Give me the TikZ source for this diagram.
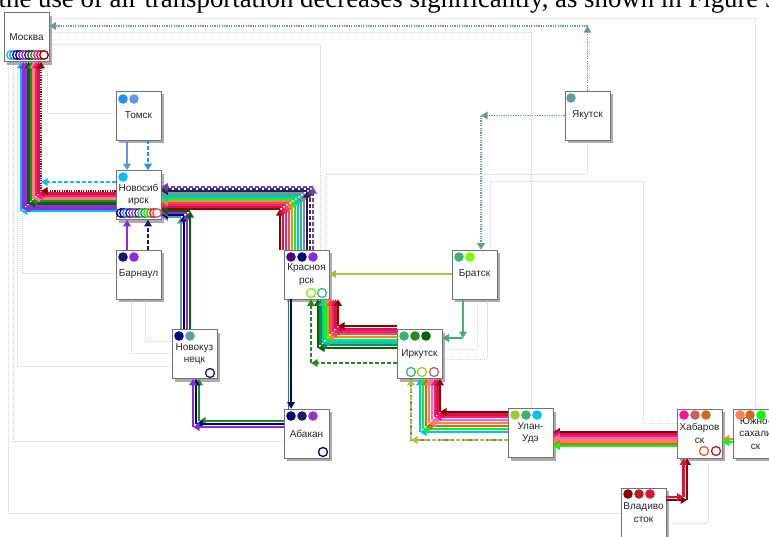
\documentclass[tikz,border=0pt]{standalone}
\usepackage{fontspec}
\setmainfont{Liberation Serif}
\newfontfamily\lab{Liberation Sans}
\usetikzlibrary{arrows.meta,shadows,calc,backgrounds}
\definecolor{darkred}{RGB}{139,0,0}
\definecolor{firebrick}{RGB}{178,34,34}
\definecolor{crimson}{RGB}{220,20,60}
\definecolor{deeppink}{RGB}{255,20,147}
\definecolor{hotpink}{RGB}{255,105,180}
\definecolor{salmon}{RGB}{250,128,114}
\definecolor{coral}{RGB}{255,127,80}
\definecolor{chocolate}{RGB}{210,105,30}
\definecolor{indianred}{RGB}{205,92,92}
\definecolor{lime}{RGB}{0,255,0}
\definecolor{lawngreen}{RGB}{124,252,0}
\definecolor{yellowgreen}{RGB}{154,205,50}
\definecolor{forestgreen}{RGB}{34,139,34}
\definecolor{darkgreen}{RGB}{0,100,0}
\definecolor{mediumseagreen}{RGB}{60,179,113}
\definecolor{cadetblue}{RGB}{95,158,160}
\definecolor{deepskyblue}{RGB}{0,191,255}
\definecolor{dodgerblue}{RGB}{30,144,255}
\definecolor{cornflowerblue}{RGB}{100,149,237}
\definecolor{navyb}{RGB}{0,0,128}
\definecolor{midnightblue}{RGB}{25,25,112}
\definecolor{indigo}{RGB}{75,0,130}
\definecolor{blueviolet}{RGB}{138,43,226}
\definecolor{darkorchid}{RGB}{153,50,204}
\definecolor{bluec}{RGB}{0,0,220}
\begin{document}
\begin{tikzpicture}[x=1pt,y=-1pt,
  box/.style={draw=gray!90!black, line width=0.7pt, fill=white, minimum width=45pt, minimum height=49pt, inner sep=0pt, align=center, font=\lab\fontsize{10}{12.5}\selectfont, text=black!85, drop shadow={shadow xshift=3pt, shadow yshift=-3pt, fill=gray!65, opacity=1}},
  arr/.style={-{Triangle[length=6.5pt,width=7.5pt]}},
  bl/.style={line width=2.2pt},
  thn/.style={line width=1.6pt},
  dsh/.style={dash pattern=on 4pt off 2pt},
  dotl/.style={dash pattern=on 1.2pt off 1.2pt},
  bg/.style={gray!35, line width=0.6pt, dash pattern=on 1pt off 1pt},
  ]
\useasboundingbox (0,0) rectangle (769,536);
\node[anchor=base west, inner sep=0pt, font=\fontsize{26.8}{26.8}\selectfont] (cap) at (-1.5,7) {the use of air transportation decreases significantly, as shown in Figure 3};

\node[box] (msk) at (26.5,37) {Москва};
\node[box] (tom) at (138.5,115.5) {Томск};
\node[box] (nsk) at (138.5,195) {Новосиб\\ирск};
\node[box] (brn) at (138.5,274.5) {Барнаул};
\node[box] (nkz) at (194.5,354) {Новокуз\\нецк};
\node[box] (krs) at (306.5,274.5) {Красноя\\рск};
\node[box] (abk) at (306.5,433.5) {Абакан};
\node[box] (brt) at (474.5,274.5) {Братск};
\node[box] (irk) at (419.5,354) {Иркутск};
\node[box] (uu) at (530.5,433) {Улан-\\Удэ};
\node[box] (hab) at (699.5,433.5) {Хабаров\\ск};
\node[box] (ys) at (755.5,433.5) {Южно-\\сахали\\ск};
\node[box] (vld) at (643.5,512.5) {Владиво\\сток};
\node[box] (yak) at (587.5,115.5) {Якутск};

\begin{scope}[on background layer]
\draw[bg] (vld.west |- 0,513) -- (8,513) -- (msk.south -| 8,0);
\draw[bg] (abk.west |- 0,441) -- (13,441) -- (msk.south -| 13,0);
\draw[bg] (nkz.west |- 0,366) -- (17,366) -- (msk.south -| 17,0);
\draw[bg] (brn.west |- 0,273) -- (22,273) -- (msk.south -| 22,0);
\draw[bg] (brn.south -| 131,0) -- (131,353) -- (nkz.west |- 0,353);
\draw[bg] (brn.south -| 145,0) -- (145,341) -- (nkz.west |- 0,341);
\draw[bg] (tom.west |- 0,113) -- (47,113) -- (msk.south -| 47,0);
\draw[bg] (ys.north) -- (755.5,18) -- (msk.east |- 0,18);
\draw[bg] (uu.north -| 531,0) -- (531,32) -- (msk.east |- 0,32);
\draw[bg] (krs.north -| 320,0) -- (320,44) -- (msk.east |- 0,44);
\draw[bg] (yak.south) -- (587.5,174) -- (325,174) -- (krs.north -| 325,0);
\draw[bg] (brt.south -| 477,0) -- (477,349) -- (irk.east |- 0,349);
\draw[bg] (brt.south -| 487,0) -- (487,359) -- (irk.east |- 0,359);
\draw[bg] (hab.west |- 0,423) -- (643.5,423) -- (643.5,181) -- (490,181) -- (brt.north -| 490,0);
\draw[bg] (vld.east |- 0,523) -- (708,523) -- (hab.south -| 708,0);
\end{scope}

% Yakutsk routes
\draw[cadetblue, thn, dotl, arr] (yak.north) -- (587.5,26);
\draw[cadetblue, thn, dotl, arr] (587.5,26) -- (msk.east |- 0,26);
\draw[cadetblue, thn, dotl, arr] (yak.west) -- (481,115.5);
\draw[cadetblue, thn, dotl, arr] (481,115.5) -- (brt.north -| 481,0);

% Tomsk, Barnaul -> Novosibirsk
\draw[cornflowerblue, thn, arr] (tom.south -| 127,0) -- (nsk.north -| 127,0);
\draw[dodgerblue, thn, dsh, arr] (tom.south -| 148,0) -- (nsk.north -| 148,0);
\draw[blueviolet, thn, arr] (brn.north -| 127,0) -- (nsk.south -| 127,0);
\draw[midnightblue, thn, dsh, arr] (brn.north -| 148,0) -- (nsk.south -| 148,0);

% Novosibirsk -> Moscow
\coordinate (a1) at (41,182);
\draw[deepskyblue, thn, dsh, arr] (nsk.west |- 0,182) -- (a1);
\foreach \c/\s/\x/\y in {deepskyblue/solid/21/211, blueviolet/solid/23.5/208.5, darkorchid/solid/26/206, darkgreen/solid/28.5/203.5, forestgreen/solid/31/201, salmon/solid/33.5/198.5, deeppink/solid/36/196, crimson/solid/38.5/193.5, darkred/dotl/41/191}{
  \draw[\c, bl, \s, arr] (nsk.west |- 0,\y) -- (\x,\y);
  \draw[\c, bl, \s, arr] (\x,\y) -- (msk.south -| \x,0);
}

% Krasnoyarsk -> Novosibirsk
\foreach \c/\s/\x/\y in {darkred/solid/280/209, crimson/solid/283/207, deeppink/solid/286/205, chocolate/solid/289/203, coral/solid/292/201, lime/solid/295/199, deepskyblue/solid/298/197, mediumseagreen/solid/301/195, cadetblue/solid/304/193, indigo/solid/307/191, darkgreen/dsh/310/189, blueviolet/dsh/313/187}{
  \draw[\c, bl, \s, arr] (krs.north -| \x,0) -- (\x,\y);
  \draw[\c, bl, \s, arr] (\x,\y) -- (nsk.east |- 0,\y);
}

% Novokuznetsk -> Novosibirsk
\foreach \c/\x/\y in {cadetblue/181/217, navyb/184/215, blueviolet/187/213, darkgreen/190/211}{
  \draw[\c, bl, arr] (nkz.north -| \x,0) -- (\x,\y);
  \draw[\c, bl, arr] (\x,\y) -- (nsk.east |- 0,\y);
}

% Krasnoyarsk -> Abakan
\draw[forestgreen, thn] (krs.south -| 288.5,0) -- (abk.north -| 288.5,0);
\draw[navyb, thn, arr] (krs.south -| 291,0) -- (abk.north -| 291,0);

% Abakan -> Novokuznetsk
\foreach \c/\x/\y in {forestgreen/199/421, navyb/196/424, blueviolet/193/427}{
  \draw[\c, bl, arr] (abk.west |- 0,\y) -- (\x,\y);
  \draw[\c, bl, arr] (\x,\y) -- (nkz.south -| \x,0);
}

% Bratsk -> Krasnoyarsk, Irkutsk
\draw[yellowgreen, line width=2.8pt, -{Triangle[length=6.5pt,width=7.5pt,fill=cadetblue]}] (brt.west |- 0,274) -- (krs.east |- 0,274);
\draw[mediumseagreen, thn, arr] (brt.south -| 463,0) -- (463,338);
\draw[mediumseagreen, thn, arr] (463,338) -- (irk.east |- 0,338);

% Irkutsk -> Krasnoyarsk
\draw[forestgreen, bl, dsh, arr] (irk.west |- 0,363) -- (311,363);
\draw[forestgreen, bl, dsh, arr] (311,363) -- (krs.south -| 311,0);
\foreach \c/\x/\y in {darkgreen/318/348, forestgreen/320.5/345.25, deepskyblue/323/342.5, lime/325.5/339.75, coral/328/337, chocolate/330.5/334.25, deeppink/333/331.5, crimson/335.5/328.75, darkred/338/326}{
  \draw[\c, bl, arr] (irk.west |- 0,\y) -- (\x,\y);
  \draw[\c, bl, arr] (\x,\y) -- (krs.south -| \x,0);
}

% Ulan-Ude -> Irkutsk
\draw[indianred, bl, dsh] (uu.west |- 0,440) -- (411,440) -- (irk.south -| 411,0);
\draw[yellowgreen, bl, dash pattern=on 4pt off 4pt, arr] (uu.west |- 0,440) -- (411,440);
\draw[yellowgreen, bl, dash pattern=on 4pt off 4pt, arr] (411,440) -- (irk.south -| 411,0);
\foreach \c/\x/\y in {deepskyblue/420/432, lime/423/429, chocolate/426/426, coral/429/423, hotpink/432/420, deeppink/435/417, crimson/437.5/414.5, darkred/440/412}{
  \draw[\c, bl, arr] (uu.west |- 0,\y) -- (\x,\y);
  \draw[\c, bl, arr] (\x,\y) -- (irk.south -| \x,0);
}

% Khabarovsk -> Ulan-Ude
\foreach \c/\y in {darkred/432, crimson/434, deeppink/436, hotpink/438, salmon/440, coral/442, chocolate/444, lime/446}{
  \draw[\c, line width=1.9pt, arr] (hab.west |- 0,\y) -- (uu.east |- 0,\y);
}
% Yuzhno-Sakhalinsk -> Khabarovsk
\draw[coral, line width=1.9pt, arr] (ys.west |- 0,439) -- (hab.east |- 0,439);
\draw[lime, line width=1.9pt, arr] (ys.west |- 0,442) -- (hab.east |- 0,442);
% Vladivostok -> Khabarovsk
\foreach \c/\x/\y in {darkred/687/500, crimson/683.5/497}{
  \draw[\c, line width=2.4pt, arr] (vld.east |- 0,\y) -- (\x,\y);
  \draw[\c, line width=2.4pt, arr] (\x,\y) -- (hab.south -| \x,0);
}

% filled dots
\fill[dodgerblue] (123,99) circle (4.8);
\fill[cornflowerblue] (134,99) circle (4.8);
\fill[deepskyblue] (123,177) circle (4.8);
\fill[midnightblue] (123,257) circle (4.8);
\fill[blueviolet] (134,257) circle (4.8);
\fill[navyb] (179,336) circle (4.8);
\fill[cadetblue] (190,336) circle (4.8);
\fill[indigo] (291,257) circle (4.8);
\fill[navyb] (302,257) circle (4.8);
\fill[blueviolet] (313,257) circle (4.8);
\fill[navyb] (291,416) circle (4.8);
\fill[midnightblue] (302,416) circle (4.8);
\fill[darkorchid] (313,416) circle (4.8);
\fill[mediumseagreen] (459,257) circle (4.8);
\fill[lawngreen] (470,257) circle (4.8);
\fill[mediumseagreen] (404,336) circle (4.8);
\fill[forestgreen] (415,336) circle (4.8);
\fill[darkgreen] (426,336) circle (4.8);
\fill[yellowgreen] (515,415) circle (4.8);
\fill[mediumseagreen] (526,415) circle (4.8);
\fill[deepskyblue] (537,415) circle (4.8);
\fill[deeppink] (684,415) circle (4.8);
\fill[indianred] (695,415) circle (4.8);
\fill[chocolate] (706,415) circle (4.8);
\fill[coral] (740,415) circle (4.8);
\fill[chocolate] (750,415) circle (4.8);
\fill[lime] (761,415) circle (4.8);
\fill[darkred] (628,494) circle (4.8);
\fill[firebrick] (639,494) circle (4.8);
\fill[crimson] (650,494) circle (4.8);
\fill[cadetblue] (571,98) circle (4.8);

% open circles
\foreach \c/\x/\y in {midnightblue/210/373, lawngreen/311/293, mediumseagreen/322/293, navyb/323/452, mediumseagreen/411/372, yellowgreen/422/372, indianred/434/372, chocolate/704/451, firebrick/716/451}{
  \draw[\c, line width=1.3pt, fill=white] (\x,\y) circle (4.5);
}
\foreach \c [count=\i] in {deepskyblue, dodgerblue, bluec, navyb, blueviolet, darkorchid, indigo, darkgreen, forestgreen, deeppink, crimson, darkred}{
  \draw[\c, line width=1.3pt, fill=white] (8+\i*3,55) circle (4.3);
}
\foreach \c [count=\i] in {navyb, bluec, dodgerblue, midnightblue, blueviolet, darkorchid, darkgreen, cadetblue, forestgreen, lime, chocolate, crimson, indianred}{
  \draw[\c, line width=1.3pt, fill=white] (118+\i*3,213) circle (4.3);
}
\end{tikzpicture}
\end{document}
